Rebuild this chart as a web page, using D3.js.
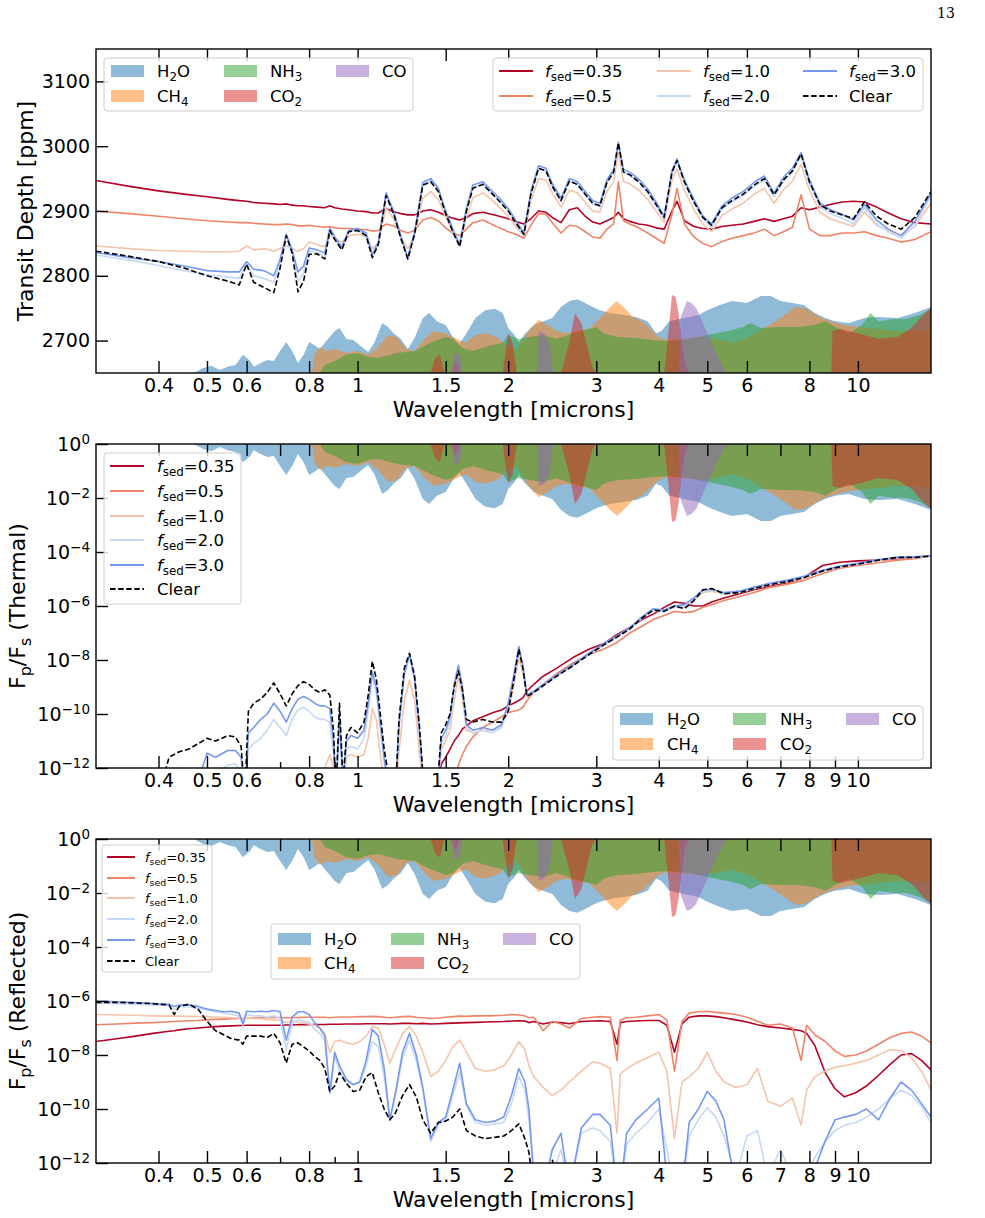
<!DOCTYPE html>
<html>
<head>
<meta charset="utf-8">
<script src="https://cdn.jsdelivr.net/npm/d3@7"></script>
<style>
  body { margin: 0; background: #fff; }
  svg text { font-family: "DejaVu Sans", sans-serif; }
</style>
</head>
<body>
<svg id="fig" width="985" height="1218"></svg>
<script>
// ---------- Panel 1: transit depth [ppm] ----------
const wlTransit = [
  0.30,0.35,0.40,0.45,0.50, 0.55,0.58,0.60,0.62,0.65, 0.68,0.70,0.72,0.74,0.76,
  0.78,0.80,0.83,0.86,0.88, 0.90,0.93,0.96,1.00,1.04, 1.07,1.10,1.14,1.18,1.22,
  1.26,1.30,1.35,1.40,1.45, 1.50,1.55,1.60,1.65,1.70, 1.78,1.85,1.92,2.00,2.07,
  2.15,2.22,2.30,2.38,2.45, 2.55,2.65,2.75,2.85,2.95, 3.05,3.15,3.25,3.32,3.40,
  3.50,3.65,3.80,3.95,4.10, 4.25,4.35,4.50,4.70,4.90, 5.10,5.35,5.60,5.90,6.20,
  6.50,6.80,7.10,7.40,7.70, 8.00,8.40,8.80,9.30,9.80, 10.3,10.9,11.5,12.2,13.0, 14.0];

const tdFsed035 = [
  2947,2938,2931,2926,2922, 2918,2916,2915,2913,2912, 2911,2910,2911,2909,2908,
  2908,2907,2906,2905,2908, 2905,2903,2902,2900,2899, 2897,2897,2904,2899,2896,
  2894,2894,2900,2902,2898, 2893,2889,2886,2890,2896, 2898,2895,2892,2888,2884,
  2880,2888,2900,2898,2890, 2882,2902,2905,2892,2883, 2880,2885,2890,2898,2888,
  2884,2880,2878,2874,2872, 2900,2915,2885,2876,2873, 2872,2876,2878,2880,2884,
  2888,2884,2888,2892,2905, 2902,2906,2910,2914,2915, 2914,2906,2897,2888,2882, 2880];
const tdFsed05 = [
  2900,2896,2892,2888,2885, 2883,2882,2882,2881,2880, 2879,2879,2880,2879,2877,
  2877,2878,2876,2875,2876, 2874,2873,2873,2872,2871, 2869,2870,2880,2877,2870,
  2866,2870,2886,2890,2885, 2874,2866,2862,2872,2882, 2886,2880,2874,2868,2864,
  2858,2878,2896,2895,2882, 2866,2878,2876,2868,2860, 2858,2872,2880,2945,2885,
  2880,2874,2866,2858,2850, 2895,2935,2880,2860,2850, 2845,2853,2858,2862,2866,
  2872,2862,2868,2875,2925, 2872,2862,2862,2866,2866, 2868,2862,2858,2852,2856, 2868];
const tdFsed10 = [
  2846,2842,2839,2838,2837, 2837,2838,2846,2840,2842, 2838,2842,2846,2842,2838,
  2842,2852,2848,2845,2862, 2858,2852,2862,2864,2860, 2842,2850,2905,2888,2860,
  2842,2862,2920,2930,2918, 2890,2868,2850,2890,2920, 2928,2918,2906,2892,2876,
  2862,2915,2950,2948,2928, 2906,2932,2928,2914,2900, 2898,2930,2945,2990,2945,
  2942,2932,2918,2900,2882, 2948,2965,2932,2902,2880, 2868,2893,2903,2912,2926,
  2935,2912,2933,2946,2972, 2932,2898,2888,2882,2876, 2898,2878,2870,2862,2876, 2912];
const tdFsed20 = [
  2832,2824,2816,2808,2802, 2798,2796,2818,2800,2796, 2790,2818,2862,2836,2792,
  2804,2838,2836,2830,2872, 2858,2842,2868,2871,2863, 2829,2849,2925,2897,2859,
  2826,2865,2941,2947,2932, 2898,2869,2845,2901,2936, 2942,2929,2916,2901,2882,
  2862,2926,2966,2962,2938, 2915,2946,2941,2926,2911, 2907,2944,2960,3004,2960,
  2955,2944,2929,2909,2888, 2958,2976,2944,2913,2888, 2874,2903,2914,2924,2938,
  2948,2922,2946,2960,2986, 2942,2906,2896,2889,2880, 2905,2880,2868,2858,2878, 2924];
const tdFsed30 = [
  2836,2828,2822,2815,2808, 2806,2806,2822,2810,2808, 2800,2825,2864,2840,2806,
  2815,2843,2840,2835,2874, 2860,2845,2870,2873,2866, 2833,2852,2928,2900,2862,
  2828,2868,2944,2950,2935, 2900,2872,2848,2904,2940, 2945,2932,2920,2904,2886,
  2866,2930,2970,2966,2942, 2920,2950,2945,2930,2916, 2912,2948,2964,3006,2964,
  2960,2949,2934,2914,2892, 2962,2980,2948,2918,2892, 2880,2908,2920,2930,2944,
  2954,2928,2952,2966,2990, 2948,2912,2902,2895,2886, 2910,2886,2872,2862,2884, 2928];
const tdClear = [
  2838,2830,2822,2812,2800, 2792,2786,2818,2790,2782, 2774,2812,2862,2835,2775,
  2792,2833,2834,2826,2870, 2856,2840,2868,2870,2862, 2828,2848,2924,2896,2858,
  2826,2864,2940,2945,2930, 2896,2868,2845,2900,2935, 2941,2928,2915,2900,2882,
  2864,2926,2966,2962,2938, 2916,2946,2941,2926,2912, 2908,2944,2960,3005,2960,
  2956,2945,2930,2910,2890, 2960,2978,2945,2914,2890, 2878,2905,2916,2926,2940,
  2950,2925,2948,2962,2988, 2945,2910,2900,2894,2888, 2914,2892,2880,2872,2890, 2930];

// ---------- Panel 2: thermal Fp/Fs, log10 values (-13 = below axis) ----------
const wlThermal = [
  0.40,0.42,0.44,0.46,0.48, 0.50,0.52,0.55,0.57,0.585, 0.595,0.605,0.62,0.64,0.66,
  0.68,0.70,0.72,0.74,0.76, 0.78,0.80,0.82,0.84,0.86, 0.88,0.895,0.905,0.92,0.935,
  0.95,0.97,1.00,1.03,1.05, 1.07,1.09,1.11,1.13,1.16, 1.19,1.21,1.24,1.27,1.30,
  1.33,1.36,1.40,1.44,1.47, 1.50,1.53,1.56,1.59,1.62, 1.65,1.70,1.78,1.86,1.94,
  2.00,2.05,2.10,2.14,2.18, 2.25,2.35,2.5,2.7,2.9, 3.1,3.3,3.5,3.7,3.9,
  4.1,4.3,4.5,4.7,4.9, 5.1,5.4,5.8,6.2,6.7, 7.2,7.8,8.5,9.2,10, 11,12,13,14];

const thFsed035 = [
  -13,-13,-13,-13,-13, -13,-13,-13,-13,-13, -13,-13,-13,-13,-13,
  -13,-13,-13,-13,-13, -13,-13,-13,-13,-13, -13,-13,-13,-13,-13,
  -13,-13,-13,-13,-13, -13,-13,-13,-13,-13, -13,-13,-13,-13,-13,
  -13,-13,-13,-12.6,-11.85, -11.6,-11.3,-11.0,-10.8,-10.55, -10.45,-10.25,-10.1,-9.95,-9.85,
  -9.7,-9.6,-9.5,-9.4,-9.15, -8.9,-8.6,-8.3,-7.9,-7.6, -7.4,-7.05,-6.8,-6.5,-6.3,
  -6.05,-5.85,-5.9,-6.0,-6.0, -5.85,-5.7,-5.55,-5.4,-5.25, -5.15,-4.95,-4.5,-4.38,-4.33,
  -4.3,-4.25,-4.2,-4.15];
const thFsed05 = [
  -13,-13,-13,-13,-13, -13,-13,-13,-13,-13, -13,-13,-13,-13,-13,
  -13,-13,-13,-13,-13, -13,-13,-13,-13,-13, -13,-13,-13,-13,-13,
  -13,-13,-13,-13,-13, -13,-13,-13,-13,-13, -13,-13,-13,-13,-13,
  -13,-13,-13,-13,-13, -13,-13,-12.6,-11.9,-11.5, -11.2,-10.85,-10.5,-10.3,-10.1,
  -9.95,-9.9,-9.85,-9.75,-9.5, -9.2,-8.9,-8.5,-8.1,-7.8, -7.6,-7.35,-7.0,-6.75,-6.5,
  -6.35,-6.2,-6.25,-6.2,-6.05, -5.95,-5.8,-5.65,-5.5,-5.3, -5.2,-5.05,-4.8,-4.6,-4.5,
  -4.4,-4.3,-4.25,-4.15];
const thFsed10 = [
  -13,-13,-13,-13,-13, -13,-13,-13,-13,-13, -13,-13,-13,-13,-13,
  -13,-13,-13,-13,-13, -12.8,-12.6,-12.5,-12.3,-12.0, -11.5,-12.0,-13,-12.4,-13,
  -11.6,-11.5,-11.6,-11.5,-10.9, -9.8,-10.2,-11.5,-12.5,-13, -13,-11.4,-9.5,-8.75,-9.5,
  -11.5,-13,-13,-13,-11.3, -11.0,-10.6,-9.5,-8.6,-9.4, -10.6,-10.7,-10.6,-10.6,-10.4,
  -9.9,-9.0,-7.9,-8.5,-9.35, -9.2,-8.95,-8.6,-8.2,-7.8, -7.45,-7.15,-6.85,-6.45,-6.15,
  -6.2,-6.05,-6.05,-5.8,-5.5, -5.45,-5.55,-5.5,-5.35,-5.2, -5.1,-4.95,-4.72,-4.55,-4.45,
  -4.3,-4.22,-4.2,-4.15];
const thFsed20 = [
  -13,-13,-13,-13,-13, -12.4,-12.2,-11.9,-11.85,-12.2, -13,-11.3,-11.1,-10.9,-10.6,
  -10.2,-10.5,-10.8,-10.2,-9.85, -9.75,-9.9,-10.1,-10.2,-10.2, -10.3,-11.5,-13,-10.4,-12.8,
  -11.3,-11.2,-11.3,-10.9,-9.9, -8.6,-9.2,-10.5,-11.8,-13, -13,-10.5,-8.55,-7.85,-8.75,
  -10.8,-13,-13,-13,-11.1, -10.8,-10.3,-9.0,-8.3,-9.1, -10.5,-10.7,-10.6,-10.7,-10.5,
  -9.7,-8.7,-7.6,-8.3,-9.3, -9.2,-8.95,-8.6,-8.2,-7.8, -7.45,-7.15,-6.85,-6.45,-6.15,
  -6.2,-6.05,-6.0,-5.75,-5.45, -5.4,-5.55,-5.5,-5.35,-5.2, -5.1,-4.95,-4.7,-4.55,-4.45,
  -4.3,-4.2,-4.2,-4.15];
const thFsed30 = [
  -13,-13,-13,-13,-12.5, -11.45,-11.6,-11.35,-11.35,-11.6, -13,-10.7,-10.5,-10.2,-10.0,
  -9.6,-9.9,-10.3,-9.8,-9.45, -9.35,-9.45,-9.6,-9.7,-9.7, -9.8,-11.0,-13,-10.0,-12.5,
  -11.0,-10.8,-10.9,-10.6,-9.6, -8.45,-9.0,-10.3,-11.6,-13, -13,-10.4,-8.5,-7.8,-8.7,
  -10.7,-13,-13,-13,-10.9, -10.6,-10.1,-8.9,-8.2,-9.0, -10.4,-10.6,-10.5,-10.6,-10.4,
  -9.6,-8.6,-7.5,-8.2,-9.3, -9.15,-8.9,-8.55,-8.15,-7.75, -7.4,-7.1,-6.8,-6.4,-6.1,
  -6.15,-6.0,-5.95,-5.7,-5.4, -5.38,-5.5,-5.45,-5.3,-5.15, -5.05,-4.9,-4.68,-4.52,-4.42,
  -4.28,-4.2,-4.18,-4.13];
const thClear = [
  -13,-11.6,-11.4,-11.3,-11.1, -10.9,-11.0,-10.8,-10.85,-11.2, -13,-9.9,-9.6,-9.45,-9.2,
  -8.85,-9.25,-9.7,-9.25,-8.95, -8.8,-8.9,-9.1,-9.2,-9.1, -9.3,-10.6,-13,-9.6,-12.5,
  -10.8,-10.5,-10.7,-10.3,-9.3, -8.05,-8.7,-10.0,-11.3,-12.6, -13,-10.2,-8.3,-7.75,-8.6,
  -10.5,-13,-13,-13,-10.7, -10.4,-10.0,-9.0,-8.4,-9.1, -10.2,-10.3,-10.2,-10.3,-10.3,
  -9.9,-8.8,-7.6,-8.3,-9.35, -9.2,-8.95,-8.6,-8.2,-7.8, -7.45,-7.15,-6.85,-6.45,-6.15,
  -6.2,-6.0,-6.1,-5.8,-5.4, -5.35,-5.55,-5.5,-5.35,-5.2, -5.1,-4.95,-4.7,-4.55,-4.45,
  -4.3,-4.2,-4.2,-4.15];

// ---------- Panel 3: reflected Fp/Fs, log10 values ----------
const wlReflected = [
  0.30,0.33,0.36,0.39,0.42, 0.43,0.44,0.46,0.48,0.50, 0.52,0.54,0.56,0.58,0.59,
  0.60,0.62,0.64,0.66,0.68, 0.70,0.72,0.74,0.76,0.78, 0.80,0.82,0.84,0.86,0.88,
  0.90,0.92,0.95,0.98,1.01, 1.04,1.07,1.10,1.13,1.16, 1.19,1.23,1.27,1.31,1.35,
  1.40,1.45,1.50,1.55,1.60, 1.65,1.72,1.80,1.88,1.96, 2.03,2.10,2.16,2.20,2.25,
  2.35,2.45,2.55,2.65,2.8, 2.95,3.05,3.2,3.3,3.35, 3.45,3.6,3.8,4.0,4.15,
  4.3,4.45,4.6,4.8,5.0, 5.2,5.4,5.7,6.0,6.3, 6.6,7.0,7.4,7.7,7.9,
  8.2,8.6,9.0,9.4,9.9, 10.4,11.0,11.6,12.2,12.8, 13.4,14.0];

const rfFsed035 = [
  -7.5,-7.4,-7.3,-7.2,-7.12, -7.1,-7.07,-7.03,-7.0,-6.97, -6.95,-6.93,-6.92,-6.91,-6.91,
  -6.9,-6.9,-6.9,-6.9,-6.9, -6.9,-6.89,-6.89,-6.88,-6.88, -6.88,-6.87,-6.87,-6.87,-6.86,
  -6.86,-6.86,-6.85,-6.85,-6.85, -6.84,-6.84,-6.84,-6.84,-6.85, -6.84,-6.83,-6.83,-6.84,-6.83,
  -6.85,-6.84,-6.83,-6.82,-6.81, -6.8,-6.79,-6.78,-6.77,-6.76, -6.74,-6.73,-6.74,-6.8,-6.76,
  -6.85,-6.78,-6.8,-6.84,-6.76, -6.74,-6.73,-6.76,-7.6,-6.8, -6.76,-6.74,-6.72,-6.72,-6.9,
  -7.9,-6.85,-6.6,-6.55,-6.55, -6.58,-6.62,-6.7,-6.78,-6.88, -6.95,-7.0,-7.05,-7.1,-7.2,
  -7.65,-8.65,-9.25,-9.55,-9.4, -9.15,-8.75,-8.35,-8.0,-7.95, -8.2,-8.55];
const rfFsed05 = [
  -6.88,-6.85,-6.82,-6.8,-6.77, -6.76,-6.75,-6.73,-6.72,-6.7, -6.68,-6.67,-6.66,-6.65,-6.65,
  -6.64,-6.63,-6.62,-6.62,-6.61, -6.61,-6.62,-6.61,-6.61,-6.6, -6.6,-6.6,-6.6,-6.6,-6.62,
  -6.6,-6.59,-6.59,-6.59,-6.58, -6.58,-6.57,-6.58,-6.6,-6.62, -6.6,-6.58,-6.57,-6.6,-6.62,
  -6.65,-6.63,-6.6,-6.58,-6.56, -6.57,-6.55,-6.55,-6.54,-6.53, -6.5,-6.52,-6.55,-6.62,-6.6,
  -7.1,-6.75,-6.85,-7.0,-6.65, -6.6,-6.58,-6.6,-8.2,-6.7, -6.62,-6.6,-6.55,-6.5,-6.7,
  -8.6,-6.75,-6.45,-6.4,-6.38, -6.42,-6.45,-6.5,-6.6,-6.75, -6.9,-6.85,-7.0,-8.2,-6.9,
  -7.25,-7.5,-7.85,-8.05,-8.0, -7.85,-7.6,-7.35,-7.2,-7.15, -7.3,-7.55];
const rfFsed10 = [
  -6.5,-6.52,-6.53,-6.55,-6.56, -6.56,-6.56,-6.57,-6.58,-6.58, -6.6,-6.6,-6.62,-6.63,-6.68,
  -6.64,-6.65,-6.66,-6.68,-6.7, -6.72,-6.8,-6.74,-6.8,-6.82, -6.85,-6.9,-7.0,-7.2,-7.9,
  -7.5,-7.45,-7.55,-7.6,-7.5, -7.3,-6.95,-7.0,-7.6,-8.3, -7.8,-7.2,-6.95,-7.3,-7.9,
  -8.8,-8.6,-8.2,-7.7,-7.45, -7.9,-8.5,-8.6,-8.55,-8.4, -8.0,-7.5,-7.8,-8.4,-8.8,
  -9.2,-9.5,-9.3,-9.0,-8.6, -8.25,-8.3,-8.5,-10.9,-8.7, -8.5,-8.3,-8.1,-7.9,-8.6,
  -11.1,-9.0,-8.8,-8.5,-7.9, -8.6,-9.0,-9.2,-9.1,-8.5, -9.7,-9.9,-9.6,-10.6,-9.3,
  -8.8,-8.6,-8.45,-8.4,-8.3, -8.2,-8.0,-7.8,-7.85,-8.1, -8.6,-9.3];
const rfFsed20 = [
  -6.07,-6.1,-6.12,-6.15,-6.17, -6.3,-6.2,-6.22,-6.28,-6.32, -6.4,-6.45,-6.5,-6.55,-6.9,
  -6.5,-6.55,-6.55,-6.6,-6.55, -6.65,-7.8,-6.85,-6.7,-6.75, -6.8,-7.05,-7.2,-7.45,-9.4,
  -8.0,-8.6,-9.0,-9.1,-9.0, -8.4,-7.5,-7.7,-8.8,-10.4, -9.5,-8.1,-7.45,-8.2,-9.3,
  -11.2,-10.6,-10.4,-9.5,-8.65, -9.9,-10.5,-10.6,-10.55,-10.5, -9.8,-8.8,-9.3,-10.4,-12.5,
  -13,-12.5,-11.5,-13,-10.9, -10.7,-10.8,-11.2,-13,-13, -11.3,-10.9,-10.5,-10.0,-11.5,
  -13,-13,-11.0,-10.4,-9.95, -10.3,-11.0,-12.5,-11.0,-10.8, -12.5,-11.5,-12.5,-13,-12.5,
  -11.8,-11.2,-10.8,-10.6,-10.5, -10.3,-10.0,-9.6,-9.3,-9.5, -9.9,-10.5];
const rfFsed30 = [
  -6.0,-6.03,-6.06,-6.09,-6.12, -6.2,-6.15,-6.14,-6.2,-6.3, -6.35,-6.4,-6.38,-6.45,-6.85,
  -6.38,-6.4,-6.38,-6.4,-6.35, -6.4,-7.45,-6.6,-6.4,-6.4, -6.5,-6.8,-7.0,-7.3,-9.4,
  -7.9,-8.4,-8.9,-9.1,-9.0, -8.2,-7.05,-7.3,-8.5,-10.4, -9.4,-7.9,-7.2,-8.0,-9.2,
  -11.1,-10.5,-10.3,-9.3,-8.3, -9.8,-10.4,-10.5,-10.45,-10.3, -9.5,-8.5,-9.0,-10.0,-12.5,
  -13,-11.5,-10.9,-13,-10.7, -10.2,-10.2,-10.6,-13,-13, -10.9,-10.4,-10.0,-9.6,-12.5,
  -13,-13,-10.5,-10.0,-9.35, -9.7,-10.4,-13,-13,-13, -13,-13,-13,-13,-13,
  -12.2,-11.2,-10.4,-10.3,-10.2, -10.0,-10.4,-9.6,-9.0,-9.3, -9.8,-10.3];
const rfClear = [
  -6.05,-6.05,-6.07,-6.1,-6.15, -6.5,-6.2,-6.12,-6.3,-6.75, -7.1,-7.25,-7.4,-7.45,-7.6,
  -7.3,-7.3,-7.3,-7.35,-7.2, -7.55,-8.3,-7.6,-7.55,-7.7, -7.85,-8.05,-8.2,-8.5,-9.35,
  -9.15,-8.65,-9.05,-9.35,-9.3, -8.8,-8.65,-9.4,-10.0,-10.4, -10.15,-9.5,-9.1,-9.55,-10.4,
  -10.9,-10.5,-10.45,-10.3,-10.0, -10.8,-11.0,-11.1,-11.05,-11.0, -10.8,-10.55,-11.1,-11.6,-13,
  -13,-11.9,-13,-13,-13, -12.3,-13,-13,-13,-13, -13,-13,-13,-13,-13,
  -13,-13,-13,-13,-13, -13,-13,-13,-13,-13, -13,-13,-13,-13,-13,
  -13,-13,-13,-13,-13, -13,-13,-13,-13,-13, -13,-13];

// ---------- Molecular contributions (percent of axis height) ----------
const h2oWl = [0.30,0.47,0.49,0.51,0.53,0.55,0.57,0.59,0.61,0.62,0.64,0.66,0.68,0.70,0.72,0.74,0.76,0.78,0.80,0.82,
  0.84,0.86,0.90,0.92,0.95,0.98,1.02,1.05,1.08,1.12,1.15,1.18,1.22,1.26,1.30,1.35,1.39,1.44,1.50,1.55,
  1.60,1.65,1.72,1.80,1.88,1.95,2.00,2.06,2.10,2.15,2.25,2.35,2.45,2.55,2.65,2.75,2.85,2.95,3.05,3.2,
  3.4,3.6,3.8,3.95,4.05,4.2,4.5,4.8,5.0,5.3,5.6,6.0,6.4,6.7,7.0,7.4,7.8,8.2,8.6,9.0,
  9.6,10.3,11.0,12.0,13.0,14.0];
const h2oVal = [0,0,1.5,2.2,0.9,1.9,2.5,5.6,3.7,1.9,3.1,4.0,3.7,6.8,9.6,6.8,3.1,5.6,9.6,8.6,
  7.4,9.3,13.0,13.9,10.5,10.2,8.0,6.5,9.3,15.4,14.2,12.3,10.5,7.4,10.8,17.0,18.5,16.0,14.8,11.1,
  9.0,12.3,17.0,19.4,19.8,18.5,13.9,11.7,9.3,11.7,14.8,16.0,17.0,20.4,22.2,22.8,21.6,20.4,19.4,18.5,
  17.9,17.3,16.0,12.3,13.0,16.0,17.0,17.9,19.4,21.0,22.2,21.6,23.8,23.8,22.2,21.6,21.0,18.5,17.0,16.0,
  15.4,17.0,17.3,17.0,18.5,20.4];

const ch4Wl = [0.81,0.82,0.84,0.87,0.90,0.95,1.00,1.05,1.10,1.15,1.20,1.25,1.30,1.36,1.42,1.50,1.58,1.65,1.72,1.80,
  1.90,2.00,2.08,2.18,2.30,2.40,2.50,2.60,2.75,2.90,3.05,3.20,3.30,3.40,3.55,3.70,3.85,4.00,4.15,4.4,
  4.8,5.2,5.6,6.0,6.5,7.0,7.5,7.9,8.4,8.8,9.4,10,11,12,13,14];
const ch4Val = [0,5.6,8.0,6.8,7.4,6.2,6.8,5.6,8.0,11.7,11.1,7.4,6.8,10.5,13.0,12.3,10.5,9.3,11.7,12.3,
  11.1,8.0,6.8,12.3,16.4,14.8,13.0,12.3,13.0,13.6,17.0,20.4,22.2,20.4,17.3,16.0,13.6,11.1,10.2,10.5,
  11.1,10.5,9.3,10.8,13.9,17.0,20.4,19.8,17.3,16.0,14.8,14.2,13.6,13.0,13.0,13.6];

const nh3Wl = [0.84,0.86,0.90,0.95,1.00,1.05,1.10,1.20,1.30,1.40,1.50,1.55,1.62,1.70,1.80,1.95,2.00,2.10,2.20,2.35,
  2.50,2.70,2.90,3.00,3.10,3.3,3.6,3.9,4.2,4.6,5.0,5.5,5.9,6.1,6.4,7.0,7.6,8.2,8.6,9.0,
  9.6,10.2,10.6,11.0,11.8,12.5,13.3,14.0];
const nh3Val = [0,2.5,3.7,5.6,6.2,4.9,4.6,6.2,6.8,9.3,11.1,10.5,7.7,6.8,8.0,9.3,11.7,10.5,11.1,11.7,
  10.5,12.3,13.6,14.2,12.3,11.1,10.8,10.2,9.9,10.5,11.7,13.0,14.2,15.4,13.9,14.2,14.2,14.8,16.0,14.2,
  12.3,14.8,18.5,16.0,16.7,16.7,17.9,19.8];

const co2Wl = [1.40,1.43,1.46,1.49,1.54,1.57,1.60,1.95,2.00,2.04,2.08,2.55,2.65,2.72,2.80,2.88,2.95,3.00,
  4.10,4.18,4.25,4.32,4.38,4.45,4.52,4.60,8.85,8.9,9.2,10,11,12,12.8,13.5,14];
const co2Val = [0,4.6,5.6,0,0,3.7,0,0,12.3,9.3,0,0,9.3,18.5,15.4,7.7,1.5,0,
  0,12.3,24.1,23.5,18.5,9.3,2.5,0,0,13.0,13.6,12.3,10.5,11.1,13.9,17.9,20.1];

const coWl = [1.54,1.56,1.60,1.62,2.28,2.30,2.36,2.42,2.46,4.38,4.42,4.55,4.65,4.75,4.85,5.0,5.2,5.4,5.5];
const coVal = [0,6.2,5.6,0,0,13.0,12.3,9.3,0,0,17.0,22.2,21.6,20.1,17.0,12.3,6.2,1.5,0];

// ---------- tick labels ----------
const xTicksTransit = [0.4,0.5,0.6,0.8,1,1.5,2,3,4,5,6,8,10];
const xTicksSpectra = [0.4,0.5,0.6,0.8,1,1.5,2,3,4,5,6,7,8,9,10];
const xMinorSpectra = [0.7,0.9];
const yTicksTransit = [2700,2800,2900,3000,3100];
const yTicksLog = [1e0,1e-2,1e-4,1e-6,1e-8,1e-10,1e-12];

// ---------- drawing ----------
const svg = d3.select('#fig');
const X0 = 96, X1 = 931;
const x = d3.scaleLog().domain([0.3, 14]).range([X0, X1]);

const fsedStyles = [
  {label: '0.35', color: '#b40426'},
  {label: '0.5',  color: '#ee8468'},
  {label: '1.0',  color: '#f5c4ac'},
  {label: '2.0',  color: '#c5d8f5'},
  {label: '3.0',  color: '#7598f0'},
  {label: 'Clear', color: '#000000', dash: '5.5,2.6'}
];
const molecules = [
  {wl: h2oWl, val: h2oVal, color: '#1f77b4', parts: [{t:'H'},{t:'2',sub:true},{t:'O'}]},
  {wl: ch4Wl, val: ch4Val, color: '#ff7f0e', parts: [{t:'CH'},{t:'4',sub:true}]},
  {wl: nh3Wl, val: nh3Val, color: '#2ca02c', parts: [{t:'NH'},{t:'3',sub:true}]},
  {wl: co2Wl, val: co2Val, color: '#d62728', parts: [{t:'CO'},{t:'2',sub:true}]},
  {wl: coWl,  val: coVal,  color: '#9467bd', parts: [{t:'CO'}]}
];

function rich(textSel, parts, fs) {
  let shift = 0;
  parts.forEach(p => {
    const ts = textSel.append('tspan').text(p.t);
    let target = 0;
    if (p.sub) { target = fs * 0.25; ts.attr('font-size', fs * 0.72); }
    if (p.it) ts.attr('font-style', 'italic');
    if (target !== shift) { ts.attr('dy', target - shift); shift = target; }
  });
}
function fsedParts(label) {
  if (label === 'Clear') return [{t: 'Clear'}];
  return [{t: 'f', it: true}, {t: 'sed', sub: true}, {t: '=' + label}];
}

function drawPanel(idx, cfg) {
  const g = svg.append('g');
  const clipId = 'clip' + idx;
  svg.append('clipPath').attr('id', clipId)
    .append('rect').attr('x', X0).attr('y', cfg.top).attr('width', X1 - X0).attr('height', cfg.bottom - cfg.top);
  const plot = g.append('g').attr('clip-path', `url(#${clipId})`);

  // molecular contribution fills on the twin axis
  const twin = d3.scaleLinear().domain([0, 100])
    .range(cfg.fillFromTop ? [cfg.top, cfg.bottom] : [cfg.bottom, cfg.top]);
  molecules.forEach(m => {
    const pts = m.wl.map((w, i) => [w, m.val[i]]);
    plot.append('path').datum(pts)
      .attr('d', d3.area().x(d => x(d[0])).y0(twin(0)).y1(d => twin(d[1])))
      .attr('fill', m.color).attr('fill-opacity', 0.5);
  });

  // spectra
  cfg.series.forEach((vals, i) => {
    const st = fsedStyles[i];
    const pts = cfg.wl.map((w, j) => [w, vals[j]]);
    plot.append('path').datum(pts)
      .attr('d', d3.line().x(d => x(d[0])).y(d => cfg.y(cfg.conv(d[1]))))
      .attr('fill', 'none').attr('stroke', st.color).attr('stroke-width', 1.6)
      .attr('stroke-linejoin', 'round')
      .attr('stroke-dasharray', st.dash || null);
  });

  // axes (ticks pointing inward)
  const styleAxis = sel => {
    sel.select('.domain').remove();
    sel.attr('font-size', 19).attr('font-family', '"DejaVu Sans", sans-serif');
    sel.selectAll('line').attr('stroke', '#000').attr('stroke-width', 1.4);
    sel.selectAll('text').attr('fill', '#000');
  };
  const bottomAx = g.append('g').attr('transform', `translate(0,${cfg.bottom})`)
    .call(d3.axisBottom(x).tickValues(cfg.xTicks).tickFormat(d => String(d))
      .tickSizeInner(-12).tickSizeOuter(0).tickPadding(6));
  styleAxis(bottomAx);
  const topAx = g.append('g').attr('transform', `translate(0,${cfg.top})`)
    .call(d3.axisTop(x).tickValues(cfg.xTicks.concat(cfg.topMinor || [])).tickFormat('')
      .tickSizeInner(-12).tickSizeOuter(0));
  styleAxis(topAx);
  if (cfg.xMinor) {
    const minorAx = g.append('g').attr('transform', `translate(0,${cfg.bottom})`)
      .call(d3.axisBottom(x).tickValues(cfg.xMinor).tickFormat('')
        .tickSizeInner(-6).tickSizeOuter(0));
    styleAxis(minorAx);
  }
  const leftAx = g.append('g').attr('transform', `translate(${X0},0)`)
    .call(d3.axisLeft(cfg.y).tickValues(cfg.yTicks)
      .tickFormat(cfg.logY ? () => '10' : d => String(d))
      .tickSizeInner(-12).tickSizeOuter(0).tickPadding(6));
  styleAxis(leftAx);
  if (cfg.logY) {
    leftAx.selectAll('.tick text').each(function(d) {
      const e = Math.round(Math.log10(d));
      d3.select(this).append('tspan').attr('dy', '-0.5em').attr('font-size', 13.5)
        .text(e === 0 ? '0' : '\u2212' + (-e));
    });
  }

  // spines
  g.append('rect').attr('x', X0).attr('y', cfg.top).attr('width', X1 - X0).attr('height', cfg.bottom - cfg.top)
    .attr('fill', 'none').attr('stroke', '#000').attr('stroke-width', 1.4);

  // axis titles
  g.append('text').attr('x', (X0 + X1) / 2).attr('y', cfg.bottom + cfg.xTitleDy)
    .attr('text-anchor', 'middle').attr('font-size', 22).text('Wavelength [microns]');
  const yt = g.append('text')
    .attr('transform', `translate(${cfg.yTitleX},${(cfg.top + cfg.bottom) / 2}) rotate(-90)`)
    .attr('text-anchor', 'middle').attr('font-size', 22);
  rich(yt, cfg.yTitle, 22);
  return g;
}

function legendBox(g, bx, by, bw, bh) {
  g.append('rect').attr('x', bx).attr('y', by).attr('width', bw).attr('height', bh)
    .attr('rx', 3).attr('fill', '#fff').attr('fill-opacity', 0.8)
    .attr('stroke', '#cccccc').attr('stroke-width', 1);
}
function fsedLegend(g, lg) {
  legendBox(g, lg.bx, lg.by, lg.bw, lg.bh);
  fsedStyles.forEach((st, i) => {
    const col = lg.cols[Math.floor(i / lg.perCol)], ry = lg.rows[i % lg.perCol];
    g.append('line').attr('x1', col.lx).attr('x2', col.lx + lg.len).attr('y1', ry).attr('y2', ry)
      .attr('stroke', st.color).attr('stroke-width', 2).attr('stroke-dasharray', st.dash || null);
    const t = g.append('text').attr('x', col.tx).attr('y', ry + lg.fs * 0.36).attr('font-size', lg.fs);
    rich(t, fsedParts(st.label), lg.fs);
  });
}
function molLegend(g, lg) {
  legendBox(g, lg.bx, lg.by, lg.bw, lg.bh);
  molecules.forEach((m, i) => {
    const col = lg.cols[Math.floor(i / 2)], ry = lg.rows[i % 2];
    g.append('rect').attr('x', col.lx).attr('y', ry - 6).attr('width', 33).attr('height', 12)
      .attr('fill', m.color).attr('fill-opacity', 0.5);
    const t = g.append('text').attr('x', col.tx).attr('y', ry + 6).attr('font-size', 16.5);
    rich(t, m.parts, 16.5);
  });
}

// Panel 1
const p1 = drawPanel(1, {
  top: 49, bottom: 373, wl: wlTransit,
  series: [tdFsed035, tdFsed05, tdFsed10, tdFsed20, tdFsed30, tdClear],
  y: d3.scaleLinear().domain([2650, 3150]).range([373, 49]), conv: v => v,
  yTicks: yTicksTransit, logY: false, xTicks: xTicksTransit, fillFromTop: false,
  xTitleDy: 44, yTitleX: 33, yTitle: [{t: 'Transit Depth [ppm]'}]
});
molLegend(p1, {bx: 104, by: 58, bw: 309, bh: 53, rows: [71, 96],
  cols: [{lx: 111, tx: 157}, {lx: 224, tx: 270}, {lx: 336, tx: 382}]});
fsedLegend(p1, {bx: 493, by: 58, bw: 430, bh: 53, rows: [71, 96], perCol: 2, len: 34, fs: 16.5,
  cols: [{lx: 499, tx: 545}, {lx: 657, tx: 703}, {lx: 803, tx: 849}]});

// Panel 2
const p2 = drawPanel(2, {
  top: 444, bottom: 768, wl: wlThermal,
  series: [thFsed035, thFsed05, thFsed10, thFsed20, thFsed30, thClear],
  y: d3.scaleLog().domain([1e-12, 1]).range([768, 444]), conv: v => Math.pow(10, v),
  yTicks: yTicksLog, logY: true, xTicks: xTicksSpectra, xMinor: xMinorSpectra, topMinor: [0.7],
  fillFromTop: true, xTitleDy: 44, yTitleX: 25,
  yTitle: [{t:'F'},{t:'p',sub:true},{t:'/F'},{t:'s',sub:true},{t:' (Thermal)'}]
});
fsedLegend(p2, {bx: 104, by: 453, bw: 137, bh: 151, rows: [466, 491, 516, 540, 565, 589], perCol: 6,
  len: 34, fs: 16.5, cols: [{lx: 110, tx: 157}]});
molLegend(p2, {bx: 613, by: 706, bw: 310, bh: 54, rows: [719, 744],
  cols: [{lx: 620, tx: 667}, {lx: 733, tx: 780}, {lx: 846, tx: 892}]});

// Panel 3
const p3 = drawPanel(3, {
  top: 839, bottom: 1163, wl: wlReflected,
  series: [rfFsed035, rfFsed05, rfFsed10, rfFsed20, rfFsed30, rfClear],
  y: d3.scaleLog().domain([1e-12, 1]).range([1163, 839]), conv: v => Math.pow(10, v),
  yTicks: yTicksLog, logY: true, xTicks: xTicksSpectra, xMinor: xMinorSpectra, topMinor: [0.7],
  fillFromTop: true, xTitleDy: 44, yTitleX: 25,
  yTitle: [{t:'F'},{t:'p',sub:true},{t:'/F'},{t:'s',sub:true},{t:' (Reflected)'}]
});
fsedLegend(p3, {bx: 102, by: 845, bw: 110, bh: 127, rows: [857, 878, 898, 919, 940, 961], perCol: 6,
  len: 28, fs: 13, cols: [{lx: 107, tx: 145}]});
molLegend(p3, {bx: 271, by: 924, bw: 309, bh: 55, rows: [939, 963],
  cols: [{lx: 278, tx: 324}, {lx: 391, tx: 437}, {lx: 503, tx: 549}]});

// page number
svg.append('text').attr('x', 946).attr('y', 18).attr('text-anchor', 'middle')
  .attr('font-size', 14).attr('fill', '#000')
  .style('font-family', '"DejaVu Serif", "Liberation Serif", serif').text('13');
</script>
</body>
</html>
